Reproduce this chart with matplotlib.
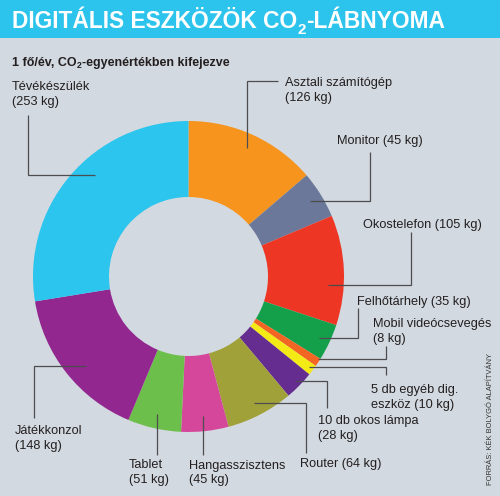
import matplotlib
matplotlib.use("Agg")
import matplotlib.pyplot as plt
import numpy as np

# ---------------- data ----------------
categories = ["Asztali számítógép", "Monitor", "Okostelefon", "Felhőtárhely",
              "Mobil videócsevegés", "5 db egyéb dig. eszköz", "10 db okos lámpa",
              "Router", "Hangasszisztens", "Tablet", "Játékkonzol", "Tévékészülék"]
values_kg = [126, 45, 105, 35, 8, 10, 28, 64, 45, 51, 148, 253]
label_lines = [
    ["Asztali számítógép", "(126 kg)"],
    ["Monitor (45 kg)"],
    ["Okostelefon (105 kg)"],
    ["Felhőtárhely (35 kg)"],
    ["Mobil videócsevegés", "(8 kg)"],
    ["5 db egyéb dig.", "eszköz (10 kg)"],
    ["10 db okos lámpa", "(28 kg)"],
    ["Router (64 kg)"],
    ["Hangasszisztens", "(45 kg)"],
    ["Tablet", "(51 kg)"],
    ["Játékkonzol", "(148 kg)"],
    ["Tévékészülék", "(253 kg)"],
]
colors = ["#F7941D", "#6C7899", "#EE3624", "#14A04B", "#F26522", "#F4EA16",
          "#652D90", "#A1A13A", "#D5479A", "#6DBF4B", "#92278F", "#2CC5EE"]

# ---------------- layout (pixel coordinates, y downwards) ----------------
W, H = 500, 496
BG = "#D2D9E0"
BAR = "#2CC3EC"
TXT = "#231F20"
LINE = "#4D4D4F"
CX, CY, R, RIN = 188.5, 276.5, 155.5, 79.5

label_pos = [(285, 86), (337, 144), (363, 228), (357, 305.5), (373, 327),
             (371, 393), (318, 424), (300, 467.5), (189, 468.5), (129, 468.5),
             (15, 434), (12, 90.5)]
anchor_par = [(0.5, 0.907), (0.5, 0.92), (0.64, 0.9), (0.5, 0.925), (0.2, 0.99),
              (0.5, 0.97), (0.5, 0.96), (0.5, 0.915), (0.5, 0.9), (0.5, 0.905),
              (0.45, 0.875), (0.57, 0.89)]
routes = [
    [("v", 81), ("h", 278)],
    [("h", 370), ("v", 152)],
    [("h", 411), ("v", 232)],
    [("h", 358), ("v", 308)],
    [("h", 386), ("v", 346)],
    [("h", 386), ("v", 375)],
    [("h", 327), ("v", 408)],
    [("h", 306), ("v", 453)],
    [("v", 455)],
    [("v", 455)],
    [("h", 34), ("v", 418)],
    [("h", 28), ("v", 115)],
]
LINE_STEP = 14.8

LABEL_FONT = ["Liberation Sans", "DejaVu Sans"]
BOLD_FONT = ["Liberation Sans", "DejaVu Sans"]

fig = plt.figure(figsize=(W / 100, H / 100), dpi=100, facecolor=BG)
ax = fig.add_axes([0, 0, 1, 1])
ax.set_facecolor(BG)

wedges, _ = ax.pie(values_kg, colors=colors, startangle=-90, counterclock=True,
                   center=(CX, CY), radius=R,
                   wedgeprops=dict(width=R - RIN, linewidth=0))
ax.set_aspect("auto")
ax.set_xlim(0, W)
ax.set_ylim(H, 0)
ax.axis("off")

ax.add_patch(plt.Rectangle((0, 0), W, 37.5, color=BAR, zorder=0, lw=0))

renderer = fig.canvas.get_renderer()


def pieces(x, y, parts, **kw):
    for txt, size, dy in parts:
        t = ax.text(x, y + dy, txt, fontsize=size, va="baseline", ha="left", **kw)
        bb = t.get_window_extent(renderer)
        x = ax.transData.inverted().transform((bb.x1, 0))[0]


pieces(12, 28.5, [("DIGITÁLIS ESZKÖZÖK CO", 16.4, 0), ("2", 11.0, 5.4),
                  ("-LÁBNYOMA", 16.4, 0)],
       color="white", fontweight="bold", family=BOLD_FONT)
pieces(12, 65.7, [("1 fő/év, CO", 9.0, 0), ("2", 6.3, 2.8),
                  ("-egyenértékben kifejezve", 9.0, 0)],
       color=TXT, fontweight="bold", family=BOLD_FONT)

for w, lines, (tx, ty), (fr, rf), route in zip(wedges, label_lines, label_pos,
                                               anchor_par, routes):
    ang = np.deg2rad(w.theta1 + fr * (w.theta2 - w.theta1))
    px, py = CX + rf * R * np.cos(ang), CY + rf * R * np.sin(ang)
    xs, ys = [px], [py]
    for kind, v in route:
        if kind == "h":
            xs.append(v); ys.append(ys[-1])
        else:
            xs.append(xs[-1]); ys.append(v)
    ax.plot(xs, ys, color=LINE, lw=0.9, solid_capstyle="butt",
            solid_joinstyle="miter", zorder=3)
    for i, ln in enumerate(lines):
        ax.text(tx, ty + i * LINE_STEP, ln, fontsize=9.2, color=TXT,
                family=LABEL_FONT, va="baseline", ha="left")

ax.text(491, 485, "FORRÁS: KÉK BOLYGÓ ALAPÍTVÁNY", rotation=90, fontsize=5.4,
        color="#333333", family=LABEL_FONT, va="bottom", ha="center")

fig.savefig("out.png", dpi=100, facecolor=BG)
